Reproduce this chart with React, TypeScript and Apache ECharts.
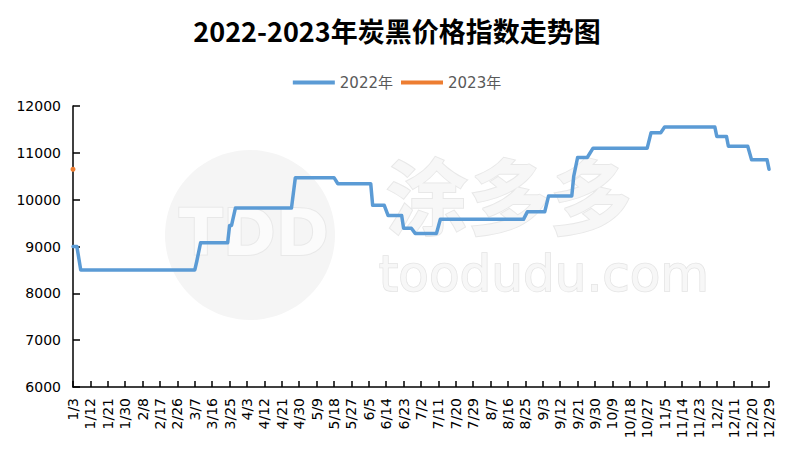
import React, { useEffect, useRef } from "react";
import * as echarts from "echarts";

const titleText = "2022-2023年炭黑价格指数走势图";
const seriesNames = ["2022年", "2023年"];

// x tick labels (every 9 days starting 1/3)
const tickLabels = [
  "1/3", "1/12", "1/21", "1/30", "2/8", "2/17", "2/26", "3/7", "3/16", "3/25",
  "4/3", "4/12", "4/21", "4/30", "5/9", "5/18", "5/27", "6/5", "6/14", "6/23",
  "7/2", "7/11", "7/20", "7/29", "8/7", "8/16", "8/25", "9/3", "9/12", "9/21",
  "9/30", "10/9", "10/18", "10/27", "11/5", "11/14", "11/23", "12/2", "12/11", "12/20",
  "12/29",
];

// days since 1/3 (x) and price index values for 2022
const day2022 = [
  0, 2, 4, 63, 64, 66, 80, 81, 82, 84, 113, 115, 135, 137, 154, 155, 161, 163, 170, 171,
  175, 177, 188, 190, 233, 235, 244, 246, 258, 259, 261, 266, 269, 297, 299, 304, 306,
  332, 333, 338, 339, 349, 351, 359, 360,
];
const price2022 = [
  9000, 9000, 8500, 8500, 8680, 9080, 9080, 9450, 9450, 9820, 9820, 10470, 10470, 10340,
  10340, 9880, 9880, 9660, 9660, 9390, 9390, 9280, 9280, 9580, 9580, 9740, 9740, 10080,
  10080, 10500, 10900, 10900, 11100, 11100, 11430, 11430, 11550, 11550, 11350, 11350,
  11140, 11140, 10850, 10850, 10650,
];

const day2023 = [0];
const price2023 = [10650];

const yTicks = [6000, 12000, 1000];

export default function App() {
  const ref = useRef<HTMLDivElement>(null);
  useEffect(() => {
    if (!ref.current) return;
    const chart = echarts.init(ref.current, null, { renderer: "svg" });
    const axisFont = "'DejaVu Sans', sans-serif";
    chart.setOption({
      animation: false,
      backgroundColor: "#ffffff",
      title: {
        text: titleText,
        left: "center",
        top: 12,
        textStyle: {
          fontSize: 27,
          fontWeight: "bold",
          color: "#000",
          fontFamily: "'Noto Sans CJK SC', sans-serif",
        },
      },
      legend: {
        top: 70,
        left: "center",
        icon: "rect",
        itemWidth: 42,
        itemHeight: 4,
        itemGap: 8,
        textStyle: { fontSize: 15, color: "#595959", fontFamily: "'DejaVu Sans', 'Noto Sans CJK SC', sans-serif" },
        data: seriesNames,
      },
      graphic: [
        {
          type: "circle",
          z: 0,
          shape: { cx: 250, cy: 235, r: 85 },
          style: { fill: "#f5f5f5" },
          silent: true,
        },
        {
          type: "text",
          z: 0,
          left: 178,
          top: 200,
          style: { text: "TDD", fontSize: 64, fontWeight: "bold", fill: "#fbfbfb", stroke: "#e8e8e8", lineWidth: 2, fontFamily: "'DejaVu Sans', sans-serif" },
          silent: true,
        },
        {
          type: "text",
          z: 0,
          left: 385,
          top: 150,
          style: { text: "涂多多", fontSize: 82, fontWeight: "bold", fill: "#f7f7f7", stroke: "#e8e8e8", lineWidth: 2, fontFamily: "'Noto Sans CJK SC', sans-serif" },
          silent: true,
        },
        {
          type: "text",
          z: 0,
          left: 378,
          top: 248,
          style: { text: "toodudu.com", fontSize: 50, fill: "#f7f7f7", stroke: "#e4e4e4", lineWidth: 1.5, fontFamily: "'DejaVu Sans', sans-serif" },
          silent: true,
        },
      ],
      grid: { left: 73, right: 25, top: 106, bottom: 67, containLabel: false },
      xAxis: {
        type: "value",
        min: 0,
        max: 360,
        interval: 9,
        splitLine: { show: false },
        axisLine: { show: true, onZero: false, lineStyle: { color: "#000", width: 1.5 } },
        axisTick: { show: true, inside: true, length: 6, lineStyle: { color: "#000", width: 1.5 } },
        axisLabel: {
          rotate: 90,
          margin: 11,
          fontSize: 14,
          color: "#000",
          fontFamily: axisFont,
          showMinLabel: true,
          showMaxLabel: true,
          formatter: (v: number) => tickLabels[Math.round(v / 9)] ?? "",
        },
      },
      yAxis: {
        type: "value",
        min: yTicks[0],
        max: yTicks[1],
        interval: yTicks[2],
        splitLine: { show: false },
        axisLine: { show: true, lineStyle: { color: "#000", width: 1.5 } },
        axisTick: { show: true, inside: true, length: 7, lineStyle: { color: "#000", width: 1.5 } },
        axisLabel: {
          margin: 12,
          fontSize: 14,
          color: "#000",
          fontFamily: axisFont,
          formatter: (v: number) => String(v),
        },
      },
      series: [
        {
          name: seriesNames[0],
          type: "line",
          z: 3,
          data: day2022.map((d, i) => [d, price2022[i]]),
          showSymbol: false,
          symbol: "none",
          lineStyle: { color: "#5B9BD5", width: 3.5, cap: "round", join: "round" },
          itemStyle: { color: "#5B9BD5" },
        },
        {
          name: seriesNames[1],
          type: "line",
          z: 4,
          data: day2023.map((d, i) => [d, price2023[i]]),
          symbol: "circle",
          symbolSize: 5,
          showSymbol: true,
          lineStyle: { color: "#ED7D31", width: 3.5 },
          itemStyle: { color: "#ED7D31" },
        },
      ],
    });
    return () => chart.dispose();
  }, []);
  return (
    <div
      ref={ref}
      style={{ position: "fixed", left: 0, top: 0, width: 794, height: 454, background: "#fff" }}
    />
  );
}
